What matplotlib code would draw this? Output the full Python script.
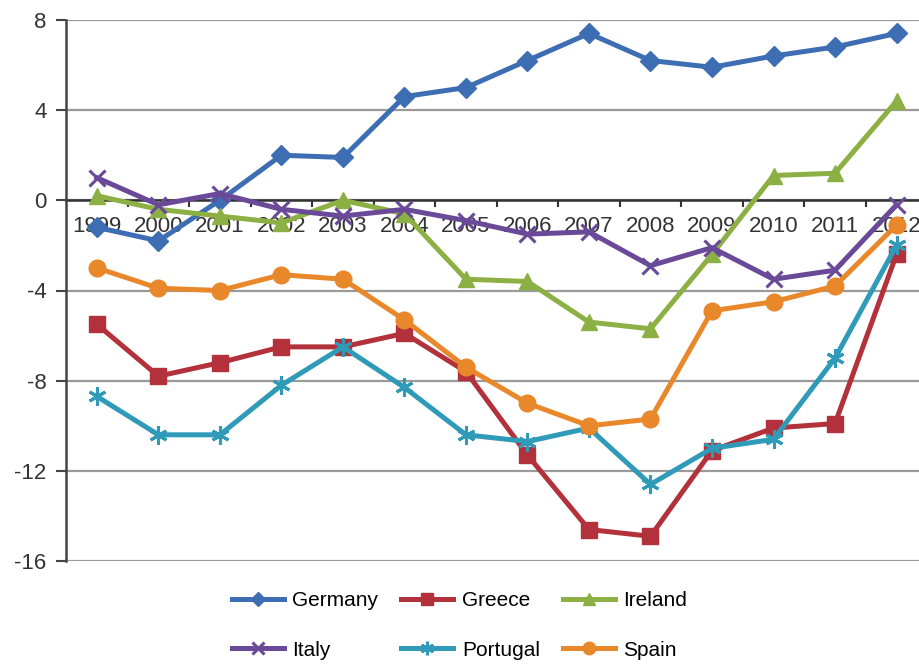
import matplotlib.pyplot as plt

years = ['1999', '2000', '2001', '2002', '2003', '2004', '2005',
         '2006', '2007', '2008', '2009', '2010', '2011', '2012']

germany = [-1.2, -1.8, 0.0, 2.0, 1.9, 4.6, 5.0, 6.2, 7.4, 6.2, 5.9, 6.4, 6.8, 7.4]
greece = [-5.5, -7.8, -7.2, -6.5, -6.5, -5.9, -7.6, -11.3, -14.6, -14.9, -11.1, -10.1, -9.9, -2.4]
ireland = [0.2, -0.4, -0.7, -1.0, 0.0, -0.6, -3.5, -3.6, -5.4, -5.7, -2.4, 1.1, 1.2, 4.4]
italy = [1.0, -0.2, 0.3, -0.4, -0.7, -0.4, -0.9, -1.5, -1.4, -2.9, -2.1, -3.5, -3.1, -0.2]
portugal = [-8.7, -10.4, -10.4, -8.2, -6.5, -8.3, -10.4, -10.7, -10.1, -12.6, -11.0, -10.6, -7.0, -2.0]
spain = [-3.0, -3.9, -4.0, -3.3, -3.5, -5.3, -7.4, -9.0, -10.0, -9.7, -4.9, -4.5, -3.8, -1.1]

series = [
    ('Germany', germany, '#3d6db2', 'D', 10),
    ('Greece', greece, '#b2313a', 's', 12),
    ('Ireland', ireland, '#8cb043', '^', 12),
    ('Italy', italy, '#6a4a98', 'x', 12),
    ('Portugal', portugal, '#2f9bb8', (6, 2, 0), 13),
    ('Spain', spain, '#e8882b', 'o', 12),
]

plt.rcParams['font.family'] = ['Liberation Sans', 'DejaVu Sans']
plt.rcParams['axes.unicode_minus'] = False

fig = plt.figure(figsize=(9.19, 6.64), dpi=100)
ax = fig.add_axes([0.072, 0.155, 0.937, 0.815])

x = list(range(len(years)))
handles = {}
for name, vals, color, marker, ms in series:
    mew = 2.2 if marker in ('x', (6, 2, 0)) else 1
    ln, = ax.plot(x, vals, color=color, lw=3.6, marker=marker, ms=ms,
                  mec=color, mew=mew, label=name, zorder=3)
    handles[name] = ln

ax.set_xlim(-0.5, 13.5)
ax.set_ylim(-16, 8)
ax.set_yticks([8, 4, 0, -4, -8, -12, -16])
ax.yaxis.grid(True, color='#9a9a9a', lw=1.6)
ax.set_axisbelow(True)

ax.spines['top'].set_visible(False)
ax.spines['right'].set_visible(False)
ax.spines['bottom'].set_position(('data', 0))
ax.spines['bottom'].set_color('#333333')
ax.spines['bottom'].set_linewidth(1.8)
ax.spines['bottom'].set_zorder(2)
ax.spines['left'].set_color('#444444')
ax.spines['left'].set_linewidth(1.8)

# year labels centred, tick marks on the boundaries
ax.set_xticks([i + 0.5 for i in x[:-1]])
ax.set_xticklabels([])
ax.set_xticks(x, minor=True)
ax.set_xticklabels(years, minor=True)
ax.tick_params(axis='x', which='major', direction='out', length=5, width=1.5, color='#333333')
ax.tick_params(axis='x', which='minor', length=0, pad=11, labelsize=16, labelcolor='#333333')
ax.tick_params(axis='y', direction='out', length=7, width=1.5, color='#444444',
               pad=7, labelsize=16, labelcolor='#333333')

order = ['Germany', 'Italy', 'Greece', 'Portugal', 'Ireland', 'Spain']
fig.legend([handles[n] for n in order], order, ncol=3, loc='center',
           bbox_to_anchor=(0.5, 0.058), frameon=False, fontsize=15,
           handlelength=2.5, handletextpad=0.4, columnspacing=1.1,
           labelspacing=1.45, markerscale=0.75)

fig.savefig('out.png', dpi=100)
